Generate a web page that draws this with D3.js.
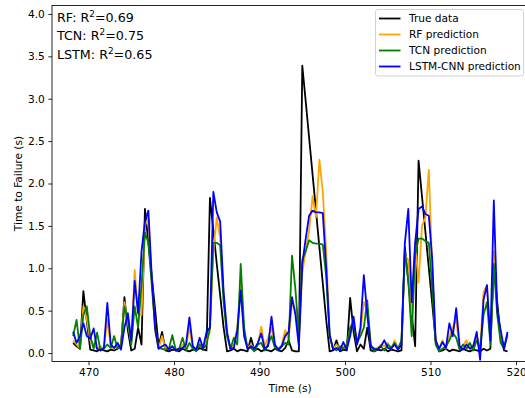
<!DOCTYPE html>
<html>
<head>
<meta charset="utf-8">
<script src="https://cdn.jsdelivr.net/npm/d3@7"></script>
<style>
  html, body { margin: 0; padding: 0; background: #fff; }
  svg { display: block; font-family: "DejaVu Sans", sans-serif; }
</style>
</head>
<body>
<svg id="chart" width="525" height="398"></svg>
<script>
// Sampling grid of the test window (seconds)
const startTime = 468.2;
const step = 0.4;

// Measured time to failure (s)
const trueData = [
  0.12, 0.08, 0.05, 0.73, 0.38, 0.04, 0.03, 0.02, 0.05, 0.03,
  0.02, 0.04, 0.03, 0.05, 0.08, 0.66, 0.27, 0.03, 0.05, 0.30,
  0.10, 1.70, 1.30, 0.90, 0.50, 0.08, 0.25, 0.03, 0.02, 0.04,
  0.03, 0.02, 0.05, 0.03, 0.02, 0.04, 0.03, 0.06, 0.04, 0.03,
  1.83, 1.45, 1.05, 0.68, 0.30, 0.02, 0.03, 0.05, 0.02, 0.04,
  0.03, 0.02, 0.18, 0.03, 0.05, 0.02, 0.04, 0.03, 0.02, 0.05,
  0.03, 0.02, 0.06, 0.15, 0.03, 0.02, 0.02, 3.39, 2.97, 2.54,
  2.11, 1.68, 1.25, 0.82, 0.39, 0.02, 0.03, 0.15, 0.02, 0.04,
  0.03, 0.65, 0.25, 0.02, 0.10, 0.05, 0.30, 0.03, 0.02, 0.04,
  0.03, 0.05, 0.02, 0.04, 0.03, 0.02, 0.03, 1.25, 0.85, 0.45,
  0.08, 2.27, 1.85, 1.43, 1.00, 0.58, 0.15, 0.02, 0.03, 0.05,
  0.02, 0.04, 0.03, 0.02, 0.05, 0.03, 0.02, 0.04, 0.03, 0.02,
  0.05, 0.03, 0.05, 1.02, 0.60, 0.20, 0.03, 0.02
];

// Random forest prediction
const rfPred = [
  0.15, 0.10, 0.05, 0.55, 0.40, 0.15, 0.10, 0.05, 0.08, 0.05,
  0.39, 0.08, 0.05, 0.10, 0.08, 0.60, 0.35, 0.12, 0.98, 0.45,
  0.45, 1.50, 1.60, 0.85, 0.25, 0.05, 0.20, 0.05, 0.06, 0.08,
  0.03, 0.05, 0.10, 0.08, 0.30, 0.06, 0.05, 0.12, 0.08, 0.15,
  0.25, 1.20, 1.60, 1.35, 0.70, 0.22, 0.05, 0.10, 0.31, 0.85,
  0.20, 0.06, 0.10, 0.05, 0.10, 0.31, 0.08, 0.18, 0.30, 0.08,
  0.05, 0.10, 0.27, 0.15, 0.60, 0.50, 0.10, 0.95, 1.20, 1.45,
  1.85, 1.60, 2.28, 1.90, 1.20, 0.20, 0.05, 0.10, 0.06, 0.08,
  0.05, 0.30, 0.40, 0.10, 0.25, 0.60, 0.50, 0.10, 0.05, 0.06,
  0.10, 0.08, 0.12, 0.05, 0.15, 0.06, 0.12, 1.15, 1.10, 0.45,
  1.30, 0.83, 1.50, 1.60, 2.16, 1.00, 0.12, 0.05, 0.15, 0.05,
  0.20, 0.30, 0.40, 0.05, 0.08, 0.15, 0.06, 0.10, 0.20, 0.05,
  0.72, 0.80, 0.10, 1.20, 0.50, 0.20, 0.08, 0.20
];

// Temporal convolutional network prediction
const tcnPred = [
  0.20, 0.39, 0.05, 0.45, 0.55, 0.20, 0.05, 0.24, 0.03, 0.05,
  0.10, 0.06, 0.20, 0.05, 0.10, 0.55, 0.40, 0.10, 0.55, 0.30,
  0.80, 1.42, 1.30, 0.80, 0.30, 0.06, 0.05, 0.04, 0.05, 0.21,
  0.04, 0.05, 0.18, 0.03, 0.12, 0.05, 0.02, 0.10, 0.05, 0.10,
  0.30, 1.30, 1.30, 1.27, 0.60, 0.20, 0.05, 0.18, 0.10, 1.05,
  0.30, 0.05, 0.06, 0.02, 0.10, 0.12, 0.03, 0.10, 0.20, 0.06,
  0.03, 0.08, 0.12, 0.10, 1.15, 0.75, 0.20, 1.10, 1.20, 1.33,
  1.30, 1.29, 1.29, 1.28, 0.90, 0.20, 0.05, 0.03, 0.08, 0.05,
  0.10, 0.30, 0.35, 0.12, 0.20, 0.30, 0.62, 0.10, 0.02, 0.05,
  0.08, 0.03, 0.10, 0.06, 0.12, 0.05, 0.15, 1.20, 0.85, 0.20,
  1.15, 1.35, 1.35, 1.32, 1.30, 0.75, 0.10, 0.02, 0.05, 0.08,
  0.15, 0.24, 0.18, 0.04, 0.10, 0.05, 0.12, 0.03, 0.15, 0.05,
  0.45, 0.60, 0.10, 1.05, 0.45, 0.12, 0.05, 0.22
];

// LSTM-CNN prediction
const lstmPred = [
  0.25, 0.12, 0.20, 0.35, 0.20, 0.17, 0.29, 0.05, 0.03, 0.06,
  0.59, 0.10, 0.06, 0.12, 0.04, 0.30, 0.47, 0.15, 0.85, 0.47,
  1.20, 1.55, 1.68, 0.90, 0.28, 0.05, 0.08, 0.10, 0.04, 0.08,
  0.03, 0.05, 0.06, 0.10, 0.42, 0.08, 0.04, 0.18, 0.06, 0.25,
  0.30, 1.90, 1.66, 1.55, 0.72, 0.25, 0.05, 0.06, 0.27, 0.74,
  0.20, 0.05, 0.08, 0.05, 0.12, 0.23, 0.05, 0.08, 0.43, 0.10,
  0.04, 0.08, 0.20, 0.25, 0.66, 0.45, 0.08, 1.05, 1.35, 1.62,
  1.68, 1.66, 1.66, 1.65, 1.00, 0.22, 0.04, 0.06, 0.03, 0.13,
  0.04, 0.20, 0.43, 0.10, 0.30, 0.92, 0.45, 0.08, 0.05, 0.04,
  0.08, 0.15, 0.06, 0.05, 0.10, 0.04, 0.10, 1.30, 1.70, 0.60,
  1.30, 1.70, 1.73, 1.64, 1.62, 1.10, 0.15, 0.05, 0.13, 0.06,
  0.35, 0.20, 0.53, 0.08, 0.04, 0.10, 0.05, 0.08, 0.25, -0.08,
  0.63, 0.80, 0.15, 1.80, 0.50, 0.27, 0.05, 0.25
];

const seriesNames = ["True data", "RF prediction", "TCN prediction", "LSTM-CNN prediction"];
const seriesColors = ["#000000", "#ffa500", "#008000", "#0000ff"];
const scoreLabels = ["RF", "TCN", "LSTM"];
const scoreValues = ["0.69", "0.75", "0.65"];
const xTicks = [470, 480, 490, 500, 510, 520];
const yTicks = [0.0, 0.5, 1.0, 1.5, 2.0, 2.5, 3.0, 3.5, 4.0];

const svg = d3.select("#chart");
const plot = { left: 52, right: 529.3, top: 5.5, bottom: 361.5 };

const x = d3.scaleLinear().domain([465.73, 521.55]).range([plot.left, plot.right]);
const y = d3.scaleLinear().domain([-0.1, 4.1]).range([plot.bottom, plot.top]);

svg.append("defs").append("clipPath").attr("id", "plot-clip")
  .append("rect")
  .attr("x", plot.left).attr("y", plot.top)
  .attr("width", plot.right - plot.left).attr("height", plot.bottom - plot.top);

const allSeries = [trueData, rfPred, tcnPred, lstmPred];
const line = d3.line()
  .x((d, i) => x(startTime + i * step))
  .y(d => y(d));

const lines = svg.append("g").attr("clip-path", "url(#plot-clip)");
allSeries.forEach((values, k) => {
  lines.append("path")
    .datum(values)
    .attr("fill", "none")
    .attr("stroke", seriesColors[k])
    .attr("stroke-width", 1.8)
    .attr("stroke-linejoin", "round")
    .attr("d", line);
});

// Axes
const tickFont = 10.6;
const xAxis = svg.append("g")
  .attr("transform", `translate(0,${plot.bottom})`)
  .call(d3.axisBottom(x).tickValues(xTicks).tickFormat(d3.format("d")).tickSize(3.7).tickPadding(3.5));
const yAxis = svg.append("g")
  .attr("transform", `translate(${plot.left},0)`)
  .call(d3.axisLeft(y).tickValues(yTicks).tickFormat(d3.format(".1f")).tickSize(3.7).tickPadding(3.5));

[xAxis, yAxis].forEach(g => {
  g.select(".domain").remove();
  g.selectAll(".tick line").attr("stroke", "#000").attr("stroke-width", 0.85);
  g.selectAll(".tick text")
    .attr("fill", "#000")
    .style("font-family", "DejaVu Sans")
    .style("font-size", tickFont + "px");
});

// Frame
svg.append("rect")
  .attr("x", plot.left).attr("y", plot.top)
  .attr("width", plot.right - plot.left).attr("height", plot.bottom - plot.top)
  .attr("fill", "none").attr("stroke", "#000").attr("stroke-width", 0.85);

// Axis titles
svg.append("text")
  .attr("x", (plot.left + plot.right) / 2 - 0.5)
  .attr("y", 392)
  .attr("text-anchor", "middle")
  .style("font-size", tickFont + "px")
  .text("Time (s)");

svg.append("text")
  .attr("transform", `translate(22,${(plot.top + plot.bottom) / 2}) rotate(-90)`)
  .attr("text-anchor", "middle")
  .style("font-size", tickFont + "px")
  .text("Time to Failure (s)");

// Scores, top left
const scoreFont = 12.7;
scoreLabels.forEach((name, i) => {
  const t = svg.append("text")
    .attr("x", 57)
    .attr("y", 21.5 + i * 18.6)
    .style("font-size", scoreFont + "px");
  t.append("tspan").text(`${name}: R`);
  t.append("tspan").attr("dy", -4.8).style("font-size", (scoreFont * 0.7) + "px").text("2");
  t.append("tspan").attr("dy", 4.8).text(`=${scoreValues[i]}`);
});

// Legend, upper right
const legend = svg.append("g");
legend.append("rect")
  .attr("x", 375.5).attr("y", 9.5)
  .attr("width", 148).attr("height", 66.5)
  .attr("rx", 2.5)
  .attr("fill", "#fff").attr("fill-opacity", 0.8)
  .attr("stroke", "#cccccc").attr("stroke-width", 0.85);
seriesNames.forEach((name, k) => {
  const cy = 18.5 + k * 16;
  legend.append("line")
    .attr("x1", 379).attr("x2", 400.5)
    .attr("y1", cy).attr("y2", cy)
    .attr("stroke", seriesColors[k]).attr("stroke-width", 1.8);
  legend.append("text")
    .attr("x", 409).attr("y", cy + 3.8)
    .style("font-size", tickFont + "px")
    .text(name);
});
</script>
</body>
</html>
